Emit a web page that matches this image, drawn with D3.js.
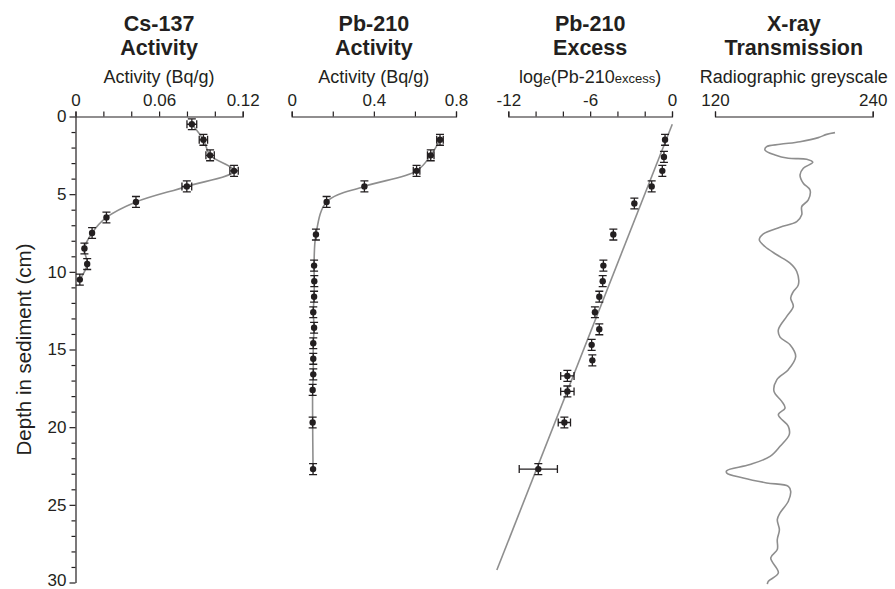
<!DOCTYPE html>
<html>
<head>
<meta charset="utf-8">
<script src="https://cdn.jsdelivr.net/npm/d3@7"></script>
<style>
  body { margin: 0; background: #fff; }
  svg { font-family: "Liberation Sans", Arial, Helvetica, sans-serif; }
</style>
</head>
<body>
<div class="chart"></div>
<script>
// Cs-137 activity (Bq/g)
const csDepth = [0.5, 1.5, 2.5, 3.5, 4.5, 5.5, 6.5, 7.5, 8.5, 9.5, 10.5];
const csActivity = [0.0835, 0.0918, 0.0966, 0.1138, 0.0799, 0.0434, 0.0222, 0.0119, 0.0064, 0.0084, 0.0031];
const csErr = [0.0035, 0.003, 0.003, 0.003, 0.0035, 0, 0, 0, 0, 0, 0];

// Pb-210 activity (Bq/g)
const pbDepth = [1.5, 2.5, 3.5, 4.5, 5.5, 7.6, 9.6, 10.6, 11.6, 12.6, 13.6, 14.6, 15.6, 16.6, 17.6, 19.7, 22.7];
const pbActivity = [0.722, 0.677, 0.608, 0.354, 0.170, 0.118, 0.109, 0.110, 0.109, 0.105, 0.109, 0.105, 0.105, 0.105, 0.102, 0.102, 0.104];
const pbErr = [0.016, 0.016, 0.016, 0, 0, 0, 0, 0, 0, 0, 0, 0, 0, 0, 0, 0, 0];

// ln(Pb-210 excess)
const exDepth = [1.5, 2.6, 3.5, 4.5, 5.6, 7.6, 9.6, 10.6, 11.6, 12.6, 13.7, 14.7, 15.7, 16.7, 17.7, 19.7, 22.7];
const exValue = [-0.51, -0.59, -0.71, -1.49, -2.76, -4.30, -5.03, -5.08, -5.33, -5.65, -5.33, -5.89, -5.84, -7.67, -7.67, -7.89, -9.8];
const exErr = [0, 0, 0, 0, 0, 0, 0, 0, 0, 0, 0, 0, 0, 0.49, 0.49, 0.45, 1.4];
const fitDepth = [0.5, 29.2];
const fitValue = [0.02, -12.84];

// depth uncertainty (cm), same for every sample
const depthErr = 0.35;

// X-ray radiographic greyscale trace
const xrayDepth = [1.04, 1.15, 1.36, 1.62, 1.79, 1.94, 2.15, 2.48, 2.69, 2.75, 2.95, 3.33, 3.76, 4.3, 4.73, 5.37, 5.8, 6.33, 6.77, 7.13, 7.56, 7.94, 8.37, 8.9, 9.44, 9.98, 10.84, 11.27, 11.69, 12.23, 12.87, 13.73, 14.2, 14.69, 15.45, 16.3, 16.95, 17.7, 18.34, 18.77, 19.2, 19.95, 20.48, 21.23, 21.88, 22.41, 22.8, 22.95, 23.27, 23.59, 23.81, 24.13, 24.77, 25.52, 25.95, 26.6, 27.23, 27.88, 28.41, 29.38, 29.92, 30.1];
const xrayGrey = [211.3, 205, 198.6, 184.7, 169.5, 159.3, 158, 165.7, 175.8, 189.8, 194.4, 187.2, 184.7, 187.2, 192.3, 191, 186, 186, 182.2, 169.5, 156.8, 153.7, 158, 167, 177.1, 182.2, 183.4, 179.6, 177.6, 179.6, 174.6, 168.2, 169.5, 177.1, 181.4, 175.8, 167, 164.9, 170.8, 173.3, 168.2, 175.8, 176.5, 169.5, 161.9, 146.6, 128.9, 128.9, 141.5, 159.3, 175.8, 177.6, 175.8, 169.5, 167.4, 169, 167.4, 167.4, 162.4, 168.2, 160.6, 159.8];

// axis ticks and labels
const depthTicks = d3.range(0, 31);
const depthLabels = [0, 5, 10, 15, 20, 25, 30];
const csTicks = [0, 0.02, 0.04, 0.06, 0.08, 0.1, 0.12];
const csLabels = [0, 0.06, 0.12];
const pbTicks = [0, 0.2, 0.4, 0.6, 0.8];
const pbLabels = [0, 0.4, 0.8];
const exTicks = [-12, -10, -8, -6, -4, -2, 0];
const exLabels = [-12, -6, 0];
const xrayTicks = [120, 240];
const xrayLabels = [120, 240];

const ink = '#231f20';
const curveGrey = '#8e8e8e';

const svg = d3.select('.chart').append('svg')
    .attr('width', 895).attr('height', 589);

const yScale = d3.scaleLinear([0, 30], [116.5, 582.5]);

const panels = [
    { range: [75.5, 242.7], domain: [0, 0.12], ticks: csTicks, labels: csLabels, title: ['Cs-137', 'Activity'], sub: 'Activity (Bq/g)' },
    { range: [291.7, 456], domain: [0, 0.8], ticks: pbTicks, labels: pbLabels, title: ['Pb-210', 'Activity'], sub: 'Activity (Bq/g)' },
    { range: [508.3, 672], domain: [-12, 0], ticks: exTicks, labels: exLabels, title: ['Pb-210', 'Excess'], sub: null },
    { range: [715, 872.7], domain: [120, 240], ticks: xrayTicks, labels: xrayLabels, title: ['X-ray', 'Transmission'], sub: 'Radiographic greyscale' }
];

panels.forEach(p => {
    p.x = d3.scaleLinear(p.domain, p.range);
    const cx = (p.range[0] + p.range[1]) / 2;

    // header, two lines
    p.title.forEach((t, i) => {
        svg.append('text').attr('text-anchor', 'middle')
            .attr('x', cx).attr('y', 31 + i * 23.5)
            .attr('font-size', 21.5).attr('font-weight', 'bold').attr('fill', ink)
            .text(t);
    });

    const sub = svg.append('text').attr('text-anchor', 'middle')
        .attr('x', cx).attr('y', 83).attr('font-size', 18).attr('fill', ink);
    if (p.sub) {
        sub.text(p.sub);
    } else {
        sub.append('tspan').text('log');
        sub.append('tspan').attr('font-style', 'italic').attr('font-size', 14).attr('dy', 1).text('e');
        sub.append('tspan').attr('dy', -1).text('(Pb-210');
        sub.append('tspan').attr('font-size', 13).text('excess');
        sub.append('tspan').text(')');
    }

    // top axis, ticks pointing up
    const axis = d3.axisTop(p.x).tickValues(p.ticks)
        .tickSizeInner(5).tickSizeOuter(5).tickPadding(6)
        .tickFormat(d => p.labels.includes(d) ? String(d) : '');
    const g = svg.append('g').attr('transform', `translate(0,${yScale(0)})`).call(axis);
    g.selectAll('path, line').attr('stroke', ink).attr('stroke-width', 1.2);
    g.selectAll('text').attr('font-size', 17).attr('fill', ink)
        .style('font-family', '"Liberation Sans", Arial, sans-serif');
});

// depth axis on the left
const yAxis = d3.axisLeft(yScale).tickValues(depthTicks)
    .tickSizeInner(4).tickSizeOuter(0).tickPadding(4)
    .tickFormat(d => depthLabels.includes(d) ? String(d) : '');
const yAxisDraw = svg.append('g').attr('transform', `translate(${panels[0].range[0]},0)`).call(yAxis);
yAxisDraw.selectAll('path, line').attr('stroke', ink).attr('stroke-width', 1.2);
yAxisDraw.selectAll('.tick line').attr('x2', d => depthLabels.includes(d) ? -6 : -4);
yAxisDraw.selectAll('text').attr('font-size', 17).attr('fill', ink).attr('x', -9)
    .style('font-family', '"Liberation Sans", Arial, sans-serif');
// keep the bottom label inside the frame
yAxisDraw.selectAll('text').filter(d => d === 30).attr('dy', '0.2em');

svg.append('text').attr('transform', `translate(31,${(yScale(0) + yScale(30)) / 2}) rotate(-90)`)
    .attr('text-anchor', 'middle').attr('font-size', 20.5).attr('fill', ink)
    .text('Depth in sediment (cm)');

// curves
function drawCurve(x, depth, vals, curve, width) {
    const line = d3.line().x(i => x(vals[i])).y(i => yScale(depth[i])).curve(curve);
    svg.append('path').attr('d', line(d3.range(depth.length)))
        .attr('fill', 'none').attr('stroke', curveGrey).attr('stroke-width', width)
        .attr('stroke-linejoin', 'round');
}

// points with error bars
function drawPoints(x, depth, vals, errs) {
    const cap = 4;
    const pts = depth.map((d, i) => ({ d: d, v: vals[i], e: errs[i] }));
    const g = svg.append('g');
    g.selectAll('path.vbar').data(pts).join('path').attr('class', 'vbar')
        .attr('d', p => {
            const cx = x(p.v), y0 = yScale(p.d - depthErr), y1 = yScale(p.d + depthErr);
            return `M${cx},${y0}V${y1}M${cx - cap},${y0}H${cx + cap}M${cx - cap},${y1}H${cx + cap}`;
        })
        .attr('fill', 'none').attr('stroke', ink).attr('stroke-width', 1.3);
    g.selectAll('path.hbar').data(pts.filter(p => p.e > 0)).join('path').attr('class', 'hbar')
        .attr('d', p => {
            const cy = yScale(p.d), x0 = x(p.v - p.e), x1 = x(p.v + p.e);
            return `M${x0},${cy}H${x1}M${x0},${cy - cap}V${cy + cap}M${x1},${cy - cap}V${cy + cap}`;
        })
        .attr('fill', 'none').attr('stroke', ink).attr('stroke-width', 1.3);
    g.selectAll('circle').data(pts).join('circle')
        .attr('cx', p => x(p.v)).attr('cy', p => yScale(p.d)).attr('r', 3.2)
        .attr('fill', ink);
}

drawCurve(panels[0].x, csDepth, csActivity, d3.curveCatmullRom.alpha(0.5), 1.6);
drawPoints(panels[0].x, csDepth, csActivity, csErr);

drawCurve(panels[1].x, pbDepth, pbActivity, d3.curveCatmullRom.alpha(0.5), 1.6);
drawPoints(panels[1].x, pbDepth, pbActivity, pbErr);

drawCurve(panels[2].x, fitDepth, fitValue, d3.curveLinear, 1.6);
drawPoints(panels[2].x, exDepth, exValue, exErr);

drawCurve(panels[3].x, xrayDepth, xrayGrey, d3.curveCatmullRom.alpha(0.5), 1.6);
</script>
</body>
</html>
